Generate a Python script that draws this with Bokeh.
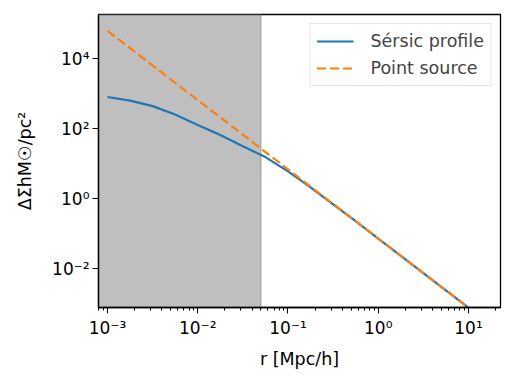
from bokeh.plotting import figure
from bokeh.models import (Range1d, FixedTicker, LogTicker, CustomJSTickFormatter,
                          BoxAnnotation, Legend, LegendItem)
from bokeh.embed import file_html
from bokeh.resources import INLINE

# ---- data ----
r = [1e-3, 1.78e-3, 3.16e-3, 5.62e-3, 1e-2, 1.78e-2, 3.16e-2, 5.62e-2,
     1e-1, 1.78e-1, 3.16e-1, 5.62e-1, 1.0, 3.16, 10.0]
sersic = [813, 640, 445, 255, 129, 66.1, 31.6, 15.5,
          6.03, 2.11, 0.692, 0.226, 0.0724, 0.00741, 7.59e-4]
point_source = [63100, 20200, 6460, 2070, 661, 211, 67.6, 21.6,
                6.92, 2.21, 0.708, 0.226, 0.0724, 0.00741, 7.59e-4]
shade_limit = 0.05
y_ticks = [1e-2, 1.0, 1e2, 1e4]
x_label = "r [Mpc/h]"
y_label = "ΔΣhM☉/pc²"
labels = ["Sérsic profile", "Point source"]

FONT = "DejaVu Sans"
FS = "17px"
FS_TEXT = "17.5px"

p = figure(width=504, height=372, x_axis_type="log", y_axis_type="log",
           x_range=Range1d(10 ** -3.0997, 10 ** 1.3546),
           y_range=Range1d(10 ** -3.114, 10 ** 5.27),
           output_backend="svg", toolbar_location=None,
           min_border_left=98, min_border_right=4, min_border_top=14,
           min_border_bottom=65)

p.background_fill_color = "white"
p.border_fill_color = "white"
p.outline_line_color = "black"
p.outline_line_width = 1.3
p.xgrid.visible = False
p.ygrid.visible = False

shade = BoxAnnotation(right=shade_limit, fill_color="#808080", fill_alpha=0.5,
                      line_color="#808080", line_alpha=0.5, line_width=1.5,
                      level="underlay")
p.add_layout(shade)

l1 = p.line(r, sersic, line_color="#1f77b4", line_width=2.2)
l2 = p.line(r, point_source, line_color="#ff7f0e", line_width=2.2,
            line_dash="9 4")

fmt = CustomJSTickFormatter(code="""
const e = Math.round(Math.log10(tick));
const sup = {"-":"\u207b","0":"\u2070","1":"\u00b9","2":"\u00b2","3":"\u00b3",
             "4":"\u2074","5":"\u2075","6":"\u2076","7":"\u2077","8":"\u2078","9":"\u2079"};
return "10" + String(e).split("").map(c => sup[c]).join("");
""")

p.xaxis.ticker = LogTicker(num_minor_ticks=10)
p.yaxis.ticker = FixedTicker(ticks=y_ticks, minor_ticks=[])
for ax in (p.xaxis, p.yaxis):
    ax.formatter = fmt
    ax.major_label_text_font = FONT
    ax.major_label_text_font_size = FS
    ax.major_label_text_color = "black"
    ax.axis_label_text_font = FONT
    ax.axis_label_text_font_size = FS_TEXT
    ax.axis_label_text_font_style = "normal"
    ax.axis_label_text_color = "black"
    ax.axis_line_color = "black"
    ax.axis_line_width = 1.3
    ax.major_tick_line_color = "black"
    ax.minor_tick_line_color = "black"
    ax.major_tick_in = 0
    ax.major_tick_out = 6
    ax.minor_tick_in = 0
    ax.minor_tick_out = 3

p.xaxis.axis_label = x_label
p.yaxis.axis_label = y_label
p.xaxis.major_label_standoff = 4
p.yaxis.major_label_standoff = 3
p.xaxis.axis_label_standoff = 8
p.yaxis.axis_label_standoff = 14

legend = Legend(items=[LegendItem(label=labels[0], renderers=[l1]),
                       LegendItem(label=labels[1], renderers=[l2])],
                location="top_right")
legend.margin = 9
legend.padding = 6
legend.spacing = 5
legend.glyph_width = 37
legend.glyph_height = 22
legend.label_height = 22
legend.label_standoff = 17
legend.label_text_font = FONT
legend.label_text_font_size = FS_TEXT
legend.border_line_color = "#cccccc"
legend.border_line_width = 1
legend.background_fill_color = "white"
legend.background_fill_alpha = 0.8
p.add_layout(legend)

open("out.html", "w").write(file_html(p, INLINE))
